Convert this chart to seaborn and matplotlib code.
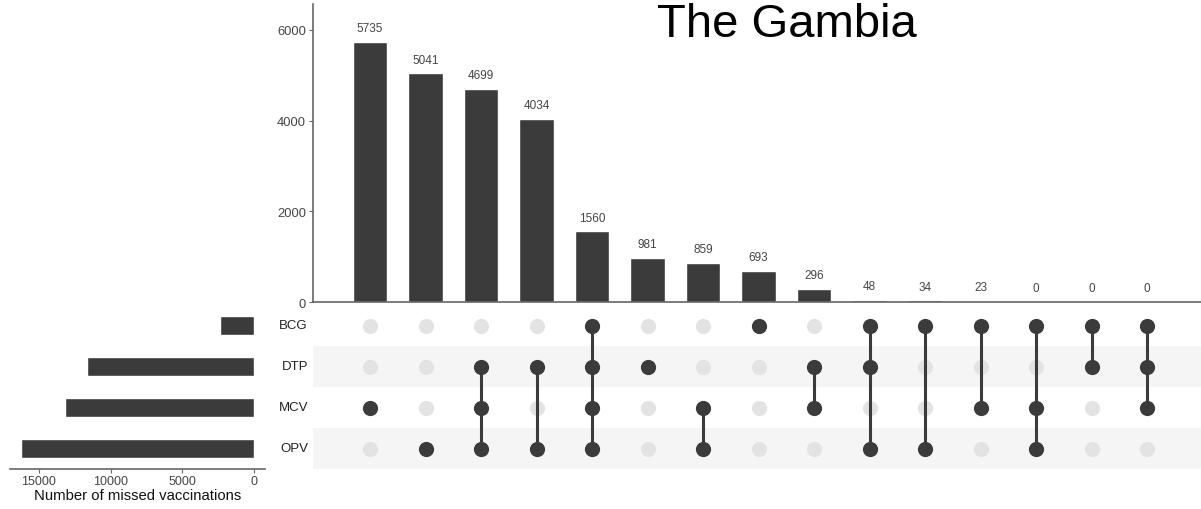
import matplotlib
matplotlib.use("Agg")
import matplotlib.pyplot as plt
import numpy as np
import pandas as pd
import seaborn as sns

# Data
sets = ["BCG", "DTP", "MCV", "OPV"]
intersections = [
    ["MCV"],
    ["OPV"],
    ["DTP", "MCV", "OPV"],
    ["DTP", "OPV"],
    ["BCG", "DTP", "MCV", "OPV"],
    ["DTP"],
    ["MCV", "OPV"],
    ["BCG"],
    ["DTP", "MCV"],
    ["BCG", "DTP", "OPV"],
    ["BCG", "OPV"],
    ["BCG", "MCV"],
    ["BCG", "MCV", "OPV"],
    ["BCG", "DTP"],
    ["BCG", "DTP", "MCV"],
]
counts = [5735, 5041, 4699, 4034, 1560, 981, 859, 693, 296, 48, 34, 23, 0, 0, 0]

# set sizes follow from the intersections
set_sizes = [sum(c for m, c in zip(intersections, counts) if s in m) for s in sets]

dark = "#3b3b3b"
light = "#e3e3e3"
stripe = "#f5f5f5"

sns.set_style("white")
plt.rcParams["font.family"] = ["Liberation Sans", "DejaVu Sans"]

fig = plt.figure(figsize=(12.01, 5.10), dpi=100)
W, H = 1201, 510

def px_axes(x0, y0, x1, y1):
    return fig.add_axes([x0 / W, 1 - y1 / H, (x1 - x0) / W, (y1 - y0) / H])

n = len(counts)
xlim = (-1.03, n - 1 + 0.97)

# --- intersection size bars ---
ax_bar = px_axes(313, 5, 1201, 303)
bar_df = pd.DataFrame({"pos": np.arange(n), "count": counts})
sns.barplot(data=bar_df, x="pos", y="count", color=dark, width=0.62,
            saturation=1, native_scale=True, ax=ax_bar)
ax_bar.set_xlim(*xlim)
ax_bar.set_ylim(0, 6570)
ax_bar.set_yticks([0, 2000, 4000, 6000])
ax_bar.set_xticks([])
ax_bar.set_xlabel("")
ax_bar.set_ylabel("")
for p, c in zip(range(n), counts):
    ax_bar.text(p, c + 170, str(c), ha="center", va="bottom", fontsize=8.5, color="#444444")
sns.despine(ax=ax_bar, top=True, right=True)
for sp in ["left", "bottom"]:
    ax_bar.spines[sp].set_color("#666666")
    ax_bar.spines[sp].set_linewidth(1.2)
ax_bar.tick_params(axis="y", length=3, color="#666666", labelsize=9.3, labelcolor="#444444", left=True, pad=2)

# --- matrix ---
ax_mat = px_axes(313, 306, 1201, 470)
rows = len(sets)
for i in range(rows):
    if i % 2 == 1:
        ax_mat.axhspan(i - 0.5, i + 0.5, color=stripe, zorder=0, lw=0)
pts = []
for j, members in enumerate(intersections):
    for i, s in enumerate(sets):
        pts.append({"x": j, "y": i, "on": s in members})
pts = pd.DataFrame(pts)
sns.scatterplot(data=pts[~pts["on"]], x="x", y="y", color=light, s=120,
                linewidth=0, ax=ax_mat, zorder=2)
for j, members in enumerate(intersections):
    idx = [sets.index(s) for s in members]
    if len(idx) > 1:
        ax_mat.vlines(j, min(idx), max(idx), color=dark, lw=2.2, zorder=3)
sns.scatterplot(data=pts[pts["on"]], x="x", y="y", color=dark, s=120,
                linewidth=0, ax=ax_mat, zorder=4)
ax_mat.set_xlim(*xlim)
ax_mat.set_ylim(rows - 0.5, -0.5)
ax_mat.set_xticks([])
ax_mat.set_yticks([])
ax_mat.set_xlabel("")
ax_mat.set_ylabel("")
for sp in ax_mat.spines.values():
    sp.set_visible(False)
for i, s in enumerate(sets):
    ax_mat.text(-1.03 - 5 / 55.5, i, s, ha="right", va="center", fontsize=9.5, color="#222222")

# --- set size bars ---
ax_set = px_axes(10, 306, 265, 470)
set_df = pd.DataFrame({"set": sets, "size": set_sizes})
sns.barplot(data=set_df, x="size", y="set", color=dark, width=0.45,
            saturation=1, orient="h", ax=ax_set)
ax_set.set_xlim(17020, -770)
ax_set.set_ylim(rows - 0.5, -0.5)
ax_set.set_xticks([15000, 10000, 5000, 0])
ax_set.set_yticks([])
ax_set.set_ylabel("")
ax_set.set_xlabel("Number of missed vaccinations", fontsize=10.7, color="#111111", labelpad=1)
sns.despine(ax=ax_set, top=True, right=True, left=True)
ax_set.spines["bottom"].set_color("#666666")
ax_set.spines["bottom"].set_linewidth(1.2)
ax_set.tick_params(axis="x", length=3, color="#666666", labelsize=9, labelcolor="#444444", bottom=True, pad=1)

fig.text(787 / W, 1 - 37 / H, "The Gambia", ha="center", va="baseline", fontsize=34, color="black")

fig.savefig("out.png", dpi=100)
